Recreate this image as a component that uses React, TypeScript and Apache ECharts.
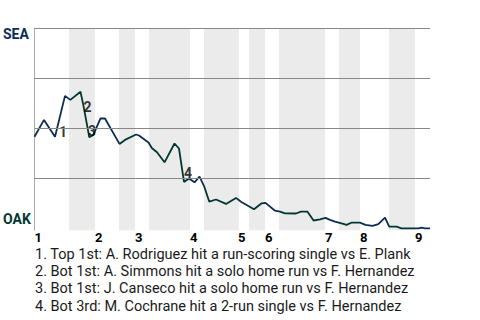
import React, { useEffect, useRef } from "react";
import * as echarts from "echarts";

// Inning labels and where each inning (top half) starts, in play units
const innings = ["1", "2", "3", "4", "5", "6", "7", "8", "9"];
const inningStartX = [0, 13.77, 22.87, 35.39, 46.3, 52.46, 66.11, 74.07, 86.59];
// Bottom halves (OAK batting) shaded
const bottomHalfRanges: [number, number][] = [
  [7.85, 13.77],
  [19.23, 22.87],
  [26.06, 35.39],
  [38.57, 46.5],
  [48.82, 52.46],
  [55.64, 66.11],
  [69.29, 74.07],
  [80.67, 86.59],
];

// Win probability line: play position and SEA win %
const playX = [
  0, 2.16, 4.67, 6.94, 8.15, 10.47, 11.15, 12.47, 13.38, 15.02, 16.04, 19.34,
  20.59, 23.1, 23.78, 25.94, 26.74, 27.88, 29.59, 31.86, 32.88, 34.02, 35.16,
  36.41, 37.55, 38.64, 39.78, 41.3, 43.58, 45.85, 46.99, 49.95, 51.7, 52.57,
  54.73, 55.87, 57, 59.5, 60.64, 62.13, 63.5, 64.98, 66.22, 67.25, 68.38, 70.27,
  71, 72.09, 74.07, 75.32, 76.92, 78.24, 79.76, 80.72, 82.42, 83.47, 87.34,
  88.11, 88.86, 90,
];
const seaWinPct = [
  45.8, 54.2, 45.8, 66.2, 64.2, 68.3, 61.2, 45.5, 46.7, 55, 54.9, 42.2, 44.2,
  46.9, 46.4, 42.9, 40, 38, 33, 42.4, 39.9, 23.2, 24.9, 23, 25.8, 20.8, 13.3,
  14.4, 12.2, 15.2, 13.3, 9.5, 12.5, 12.7, 8.8, 8.3, 7.5, 7.4, 8.3, 8.3, 3.9,
  4.5, 5.2, 4.2, 3.3, 2.2, 1.7, 2.8, 2.8, 1.7, 1.2, 2.1, 5.3, 0.8, 0.8, 0, 0,
  0.3, 0, 0,
];

// Key plays: marker number and label position (play units, SEA win %)
const keyPlayNums = ["1", "2", "3", "4"];
const keyPlayX = [6.49, 12.06, 13.08, 34.93];
const keyPlayY = [48.2, 60.7, 48.7, 27.7];
const keyPlayTexts = [
  "1. Top 1st: A. Rodriguez hit a run-scoring single vs E. Plank",
  "2. Bot 1st: A. Simmons hit a solo home run vs F. Hernandez",
  "3. Bot 1st: J. Canseco hit a solo home run vs F. Hernandez",
  "4. Bot 3rd: M. Cochrane hit a 2-run single vs F. Hernandez",
];

const gridValues = [25, 50, 75, 100];

const NAVY = "#0c2c56";
const GREEN = "#003831";
const FONT = "Roboto, 'Noto Sans', sans-serif";

export default function App() {
  const ref = useRef<HTMLDivElement>(null);
  useEffect(() => {
    if (!ref.current) return;
    const chart = echarts.init(ref.current, undefined, { renderer: "svg" });
    const lineData = playX.map((x, i) => [x, seaWinPct[i]]);
    const option: any = {
      animation: false,
      textStyle: { fontFamily: FONT },
      grid: { left: 34.5, right: 50, top: 28.3, bottom: 89.7 },
      xAxis: {
        type: "value",
        min: 0,
        max: 90,
        axisLine: { show: false },
        axisTick: { show: false },
        splitLine: { show: false },
        axisLabel: {
          customValues: inningStartX,
          formatter: (v: number) => {
            const idx = inningStartX.findIndex((s) => Math.abs(s - v) < 0.01);
            return idx >= 0 ? innings[idx] : "";
          },
          align: "left",
          margin: 0.5,
          fontSize: 13,
          lineHeight: 13,
          fontWeight: "bold",
          color: "#000",
          fontFamily: FONT,
        },
      },
      yAxis: {
        type: "value",
        min: -1,
        max: 100,
        axisLine: { show: true, lineStyle: { color: "#aaa", width: 1 } },
        axisTick: { show: false },
        axisLabel: { show: false },
        splitLine: { show: false },
      },
      visualMap: {
        show: false,
        type: "piecewise",
        dimension: 0,
        seriesIndex: 2,
        pieces: bottomHalfRanges.map(([a, b]) => ({ gte: a, lt: b, color: GREEN })),
        outOfRange: { color: NAVY },
      },
      series: [
        {
          type: "line",
          data: [],
          z: 1,
          silent: true,
          markArea: {
            silent: true,
            itemStyle: { color: "#ebebeb" },
            data: bottomHalfRanges.map(([a, b]) => [{ xAxis: a }, { xAxis: b }]),
          },
        },
        {
          type: "line",
          data: [],
          z: 2,
          silent: true,
          markLine: {
            silent: true,
            symbol: "none",
            label: { show: false },
            lineStyle: { color: "#888", type: "solid", width: 1 },
            data: gridValues.map((v) => ({ yAxis: v })),
          },
        },
        {
          type: "line",
          data: lineData,
          z: 3,
          showSymbol: false,
          symbol: "none",
          lineStyle: { width: 1.8 },
        },
        {
          type: "scatter",
          z: 4,
          symbolSize: 1,
          itemStyle: { color: "transparent" },
          data: keyPlayX.map((x, i) => [x, keyPlayY[i], keyPlayNums[i]]),
          label: {
            show: true,
            position: "inside",
            formatter: (p: any) => p.value[2],
            fontSize: 14,
            fontWeight: "bold",
            color: "#000",
            textBorderWidth: 0,
            fontFamily: FONT,
          },
        },
      ],
      graphic: [
        {
          type: "text",
          left: 3,
          top: 27,
          style: { text: "SEA", fill: NAVY, font: `bold 14px ${FONT}` },
        },
        {
          type: "text",
          left: 3,
          top: 212,
          style: { text: "OAK", fill: GREEN, font: `bold 14px ${FONT}` },
        },
        ...keyPlayTexts.map((t, i) => ({
          type: "text",
          x: 35,
          y: 254 + i * 17.4,
          style: {
            text: t,
            fill: "#1a1a1a",
            font: `14.5px ${FONT}`,
            lineHeight: 15,
            verticalAlign: "middle",
          },
        })),
      ],
    };
    chart.setOption(option);
    return () => chart.dispose();
  }, []);
  return (
    <div
      ref={ref}
      style={{ position: "fixed", left: 0, top: 0, width: 480, height: 320, background: "#fff" }}
    />
  );
}
